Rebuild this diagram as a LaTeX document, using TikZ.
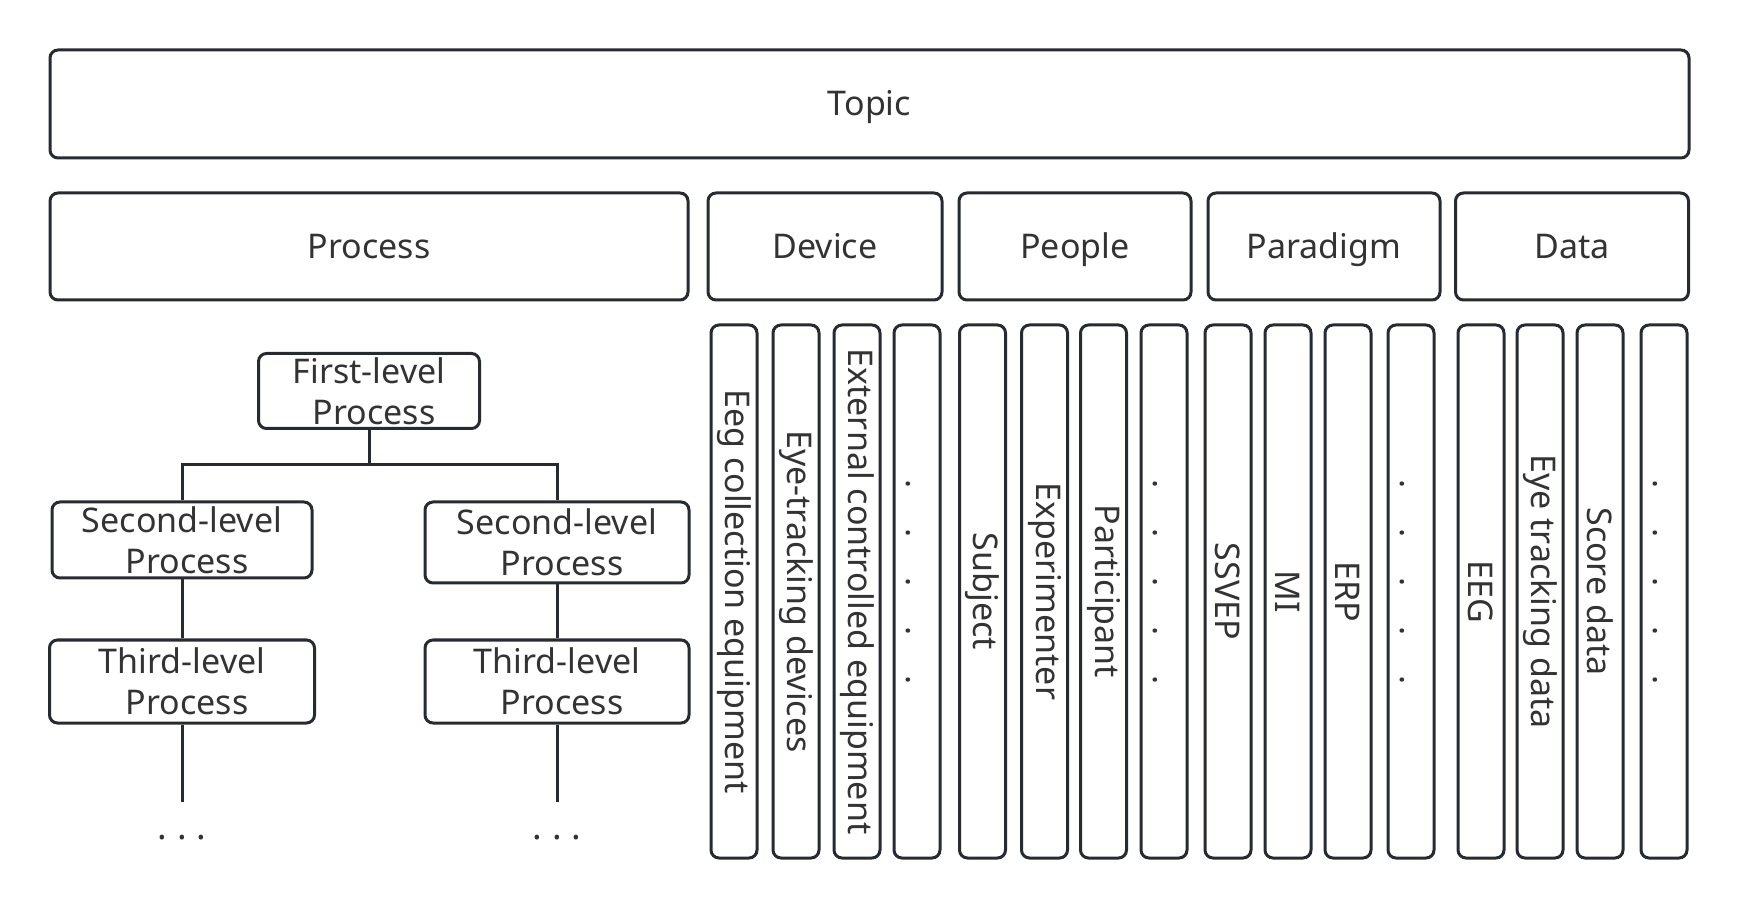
\documentclass[tikz,border=0pt]{standalone}
\usepackage{fontspec}
\setmainfont{Noto Sans}
\definecolor{linec}{HTML}{262B31}
\definecolor{textc}{HTML}{333333}
\tikzset{
  box/.style={draw=linec, line width=1.5pt, rounded corners=4pt, text=textc,
    inner sep=0pt, font=\fontsize{17}{20.5}\selectfont, align=center},
  head/.style={box, minimum height=53.5pt, text height=12pt, text depth=0pt},
  col/.style={box, rotate=-90, minimum width=266.5pt, minimum height=23pt},
  link/.style={draw=linec, line width=1.5pt},
}
\newcommand{\vdotrow}{\rule[-2pt]{0pt}{15pt}.\hspace{20pt}.\hspace{20pt}.\hspace{20pt}.\hspace{20pt}.\hspace{9.5pt}}

\begin{document}
\begin{tikzpicture}[x=0.5pt, y=-0.5pt]
    \useasboundingbox (0,0) rectangle (1740,908);
    % Top row
    \node[head, minimum width=819.5pt, minimum height=54pt] (topic) at (869.5,104) {Topic};
    % Category row
    \node[head, minimum width=319pt] (process) at (369,246.5) {Process};
    \node[head, minimum width=117pt] (device) at (825,246.5) {Device};
    \node[head, minimum width=116pt] (people) at (1075,246.5) {People};
    \node[head, minimum width=116pt] (paradigm) at (1324,246.5) {Paradigm};
    \node[head, minimum width=116.5pt] (data) at (1572,246.5) {Data};
    % Process tree
    \node[box, minimum width=110.5pt, minimum height=37.5pt] (first) at (369,391) {First-level\\\hspace*{5pt}Process};
    \node[box, minimum width=130pt, minimum height=38pt] (secleft) at (182,540) {Second-level\\\hspace*{5pt}Process};
    \node[box, minimum width=132pt, minimum height=40.5pt] (secright) at (557,542.5) {Second-level\\\hspace*{5pt}Process};
    \node[box, minimum width=132.5pt, minimum height=41.5pt] (thirdleft) at (182,681.5) {Third-level\\\hspace*{5pt}Process};
    \node[box, minimum width=132pt, minimum height=41.5pt] (thirdright) at (557,681.5) {Third-level\\\hspace*{5pt}Process};
    \coordinate (split) at (369,465);
    \coordinate (endleft) at (182,802);
    \coordinate (endright) at (557,802);
    \draw[link] (first.south) -- (split);
    \draw[link] (secleft.north) |- (split) -| (secright.north);
    \draw[link] (secleft.south) -- (thirdleft.north);
    \draw[link] (secright.south) -- (thirdright.north);
    \draw[link] (thirdleft.south) -- (endleft);
    \draw[link] (thirdright.south) -- (endright);
    \node[text=textc, inner sep=0pt, font=\fontsize{18}{20}\selectfont] (moreleft) at (182,838) {.\hspace{5pt}.\hspace{5pt}.};
    \node[text=textc, inner sep=0pt, font=\fontsize{18}{20}\selectfont] (moreright) at (557,838) {.\hspace{5pt}.\hspace{5pt}.};
    % Device columns
    \node[col] (dev1) at (734,591.5) {Eeg collection equipment};
    \node[col] (dev2) at (796,591.5) {Eye-tracking devices};
    \node[col] (dev3) at (857,591.5) {External controlled equipment};
    \node[col] (dev4) at (917,591.5) {\vdotrow};
    % People columns
    \node[col] (peo1) at (982.5,591.5) {Subject};
    \node[col] (peo2) at (1044.5,591.5) {Experimenter};
    \node[col] (peo3) at (1103.5,591.5) {Participant};
    \node[col] (peo4) at (1164,591.5) {\vdotrow};
    % Paradigm columns
    \node[col] (par1) at (1228,591.5) {SSVEP};
    \node[col] (par2) at (1288,591.5) {MI};
    \node[col] (par3) at (1348,591.5) {ERP};
    \node[col] (par4) at (1411,591.5) {\vdotrow};
    % Data columns
    \node[col] (dat1) at (1481,591.5) {EEG};
    \node[col] (dat2) at (1540,591.5) {Eye tracking data};
    \node[col] (dat3) at (1600,591.5) {Score data};
    \node[col] (dat4) at (1664,591.5) {\vdotrow};
\end{tikzpicture}
\end{document}
